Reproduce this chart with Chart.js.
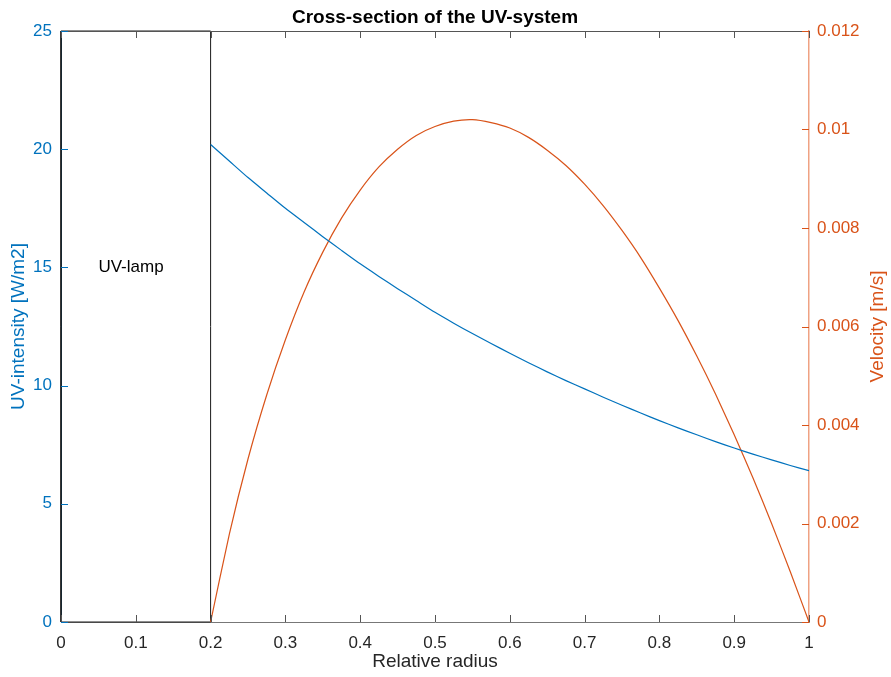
<!DOCTYPE html>
<html lang="en">
<head>
  <meta charset="UTF-8" />
  <title>Cross-section of the UV-system</title>
  <script src="https://cdn.jsdelivr.net/npm/chart.js"></script>
  <style>
    html, body { margin: 0; padding: 0; background: #fff; }
    #uvChart { display: block; }
  </style>
</head>
<body>
  <canvas id="uvChart" width="891" height="677"></canvas>

  <script>
    // values
    const radius = [0.2, 0.225, 0.25, 0.275, 0.3, 0.325, 0.35, 0.375, 0.4, 0.425, 0.45, 0.475, 0.5, 0.525, 0.55, 0.575, 0.6,
      0.625, 0.65, 0.675, 0.7, 0.725, 0.75, 0.775, 0.8, 0.825, 0.85, 0.875, 0.9, 0.925, 0.95, 0.975, 1.0];
    const intensity = [20.2, 19.5, 18.8, 18.15, 17.5, 16.9, 16.3, 15.72, 15.15, 14.62, 14.1, 13.6, 13.1, 12.64, 12.2, 11.78, 11.37,
      10.97, 10.58, 10.21, 9.86, 9.51, 9.17, 8.84, 8.52, 8.21, 7.92, 7.63, 7.36, 7.1, 6.86, 6.62, 6.4];
    const velocity = [0, 0.00178, 0.00331, 0.00461, 0.00573, 0.0067, 0.00751, 0.0082, 0.00877, 0.00924, 0.0096, 0.00988, 0.01006,
      0.01017, 0.0102, 0.01014, 0.01003, 0.00984, 0.00958, 0.00927, 0.00889, 0.00845, 0.00795, 0.0074, 0.00678, 0.00612, 0.0054,
      0.00463, 0.0038, 0.00293, 0.002, 0.00102, 0];
    const lampX = [0, 0.2, 0.2, 0, 0];
    const lampY = [0, 0, 25, 25, 0];
    const xTicks = [0, 0.1, 0.2, 0.3, 0.4, 0.5, 0.6, 0.7, 0.8, 0.9, 1];
    const leftTicks = [0, 5, 10, 15, 20, 25];
    const rightTicks = [0, 0.002, 0.004, 0.006, 0.008, 0.01, 0.012];

    const BLUE = '#0072BD';
    const ORANGE = '#D95319';
    const FONT = '"Liberation Sans", Arial, Helvetica, sans-serif';

    const pts = (xs, ys) => xs.map((x, i) => ({ x: x, y: ys[i] }));
    const fmt = v => String(parseFloat(Number(v).toFixed(4)));

    // inward tick marks, top box edge, titles and the lamp label
    const matlabAxes = {
      id: 'matlabAxes',
      afterDraw(chart) {
        const { ctx, chartArea: a, scales } = chart;
        const len = 7;
        ctx.save();
        ctx.lineWidth = 1;

        ctx.strokeStyle = '#555';
        ctx.beginPath();
        ctx.moveTo(a.left, a.top + 0.5);
        ctx.lineTo(a.right, a.top + 0.5);
        xTicks.forEach(t => {
          const px = Math.round(scales.x.getPixelForValue(t)) + 0.5;
          ctx.moveTo(px, a.bottom);
          ctx.lineTo(px, a.bottom - len);
          ctx.moveTo(px, a.top);
          ctx.lineTo(px, a.top + len);
        });
        ctx.stroke();

        ctx.strokeStyle = BLUE;
        ctx.beginPath();
        leftTicks.forEach(t => {
          const py = Math.round(scales.y.getPixelForValue(t)) + 0.5;
          ctx.moveTo(a.left, py);
          ctx.lineTo(a.left + len, py);
        });
        ctx.stroke();

        ctx.strokeStyle = ORANGE;
        ctx.beginPath();
        rightTicks.forEach(t => {
          const py = Math.round(scales.y2.getPixelForValue(t)) + 0.5;
          ctx.moveTo(a.right, py);
          ctx.lineTo(a.right - len, py);
        });
        ctx.stroke();

        ctx.textBaseline = 'middle';
        ctx.fillStyle = '#000';
        ctx.font = '17px ' + FONT;
        ctx.textAlign = 'left';
        ctx.fillText('UV-lamp', scales.x.getPixelForValue(0.05), scales.y.getPixelForValue(15));

        ctx.textAlign = 'center';
        ctx.font = 'bold 19px ' + FONT;
        ctx.fillText('Cross-section of the UV-system', (a.left + a.right) / 2, 18);

        const midY = (a.top + a.bottom) / 2;
        ctx.font = '19px ' + FONT;
        ctx.fillStyle = '#262626';
        ctx.fillText('Relative radius', (a.left + a.right) / 2, 662);

        ctx.save();
        ctx.translate(19, midY);
        ctx.rotate(-Math.PI / 2);
        ctx.fillStyle = BLUE;
        ctx.fillText('UV-intensity [W/m2]', 0, 0);
        ctx.restore();

        ctx.save();
        ctx.translate(878, midY);
        ctx.rotate(-Math.PI / 2);
        ctx.fillStyle = ORANGE;
        ctx.fillText('Velocity [m/s]', 0, 0);
        ctx.restore();

        ctx.restore();
      }
    };

    new Chart(document.getElementById('uvChart'), {
      type: 'line',
      data: {
        datasets: [
          {
            label: 'UV-intensity',
            data: pts(radius, intensity),
            yAxisID: 'y',
            borderColor: BLUE,
            borderWidth: 1.2,
            pointRadius: 0,
            tension: 0.2
          },
          {
            label: 'Velocity',
            data: pts(radius, velocity),
            yAxisID: 'y2',
            borderColor: ORANGE,
            borderWidth: 1.2,
            pointRadius: 0,
            tension: 0.2
          },
          {
            label: 'UV-lamp',
            data: pts(lampX, lampY),
            yAxisID: 'y',
            borderColor: '#1a1a1a',
            borderWidth: 1,
            pointRadius: 0,
            tension: 0,
            clip: false
          }
        ]
      },
      options: {
        responsive: false,
        animation: false,
        layout: { padding: { top: 31, left: 0, right: 0, bottom: 0 } },
        plugins: {
          legend: { display: false },
          tooltip: { enabled: false },
          title: { display: false }
        },
        scales: {
          x: {
            type: 'linear',
            min: 0,
            max: 1,
            afterFit: s => { s.height = 55; },
            afterBuildTicks: s => { s.ticks = xTicks.map(v => ({ value: v })); },
            grid: { display: false, drawTicks: false },
            border: { display: true, color: '#777', width: 1 },
            ticks: {
              color: '#262626',
              padding: 11,
              maxRotation: 0,
              font: { family: FONT, size: 17 },
              callback: v => fmt(v)
            }
          },
          y: {
            position: 'left',
            min: 0,
            max: 25,
            afterFit: s => { s.width = 61; },
            afterBuildTicks: s => { s.ticks = leftTicks.map(v => ({ value: v })); },
            grid: { display: false, drawTicks: false },
            border: { display: true, color: BLUE, width: 1 },
            ticks: {
              color: BLUE,
              padding: 9,
              font: { family: FONT, size: 17 },
              callback: v => fmt(v)
            }
          },
          y2: {
            position: 'right',
            min: 0,
            max: 0.012,
            afterFit: s => { s.width = 82; },
            afterBuildTicks: s => { s.ticks = rightTicks.map(v => ({ value: v })); },
            grid: { display: false, drawTicks: false },
            border: { display: true, color: '#EFA283', width: 1.5 },
            ticks: {
              color: ORANGE,
              padding: 8,
              font: { family: FONT, size: 17 },
              callback: v => fmt(v)
            }
          }
        }
      },
      plugins: [matlabAxes]
    });
  </script>
</body>
</html>
